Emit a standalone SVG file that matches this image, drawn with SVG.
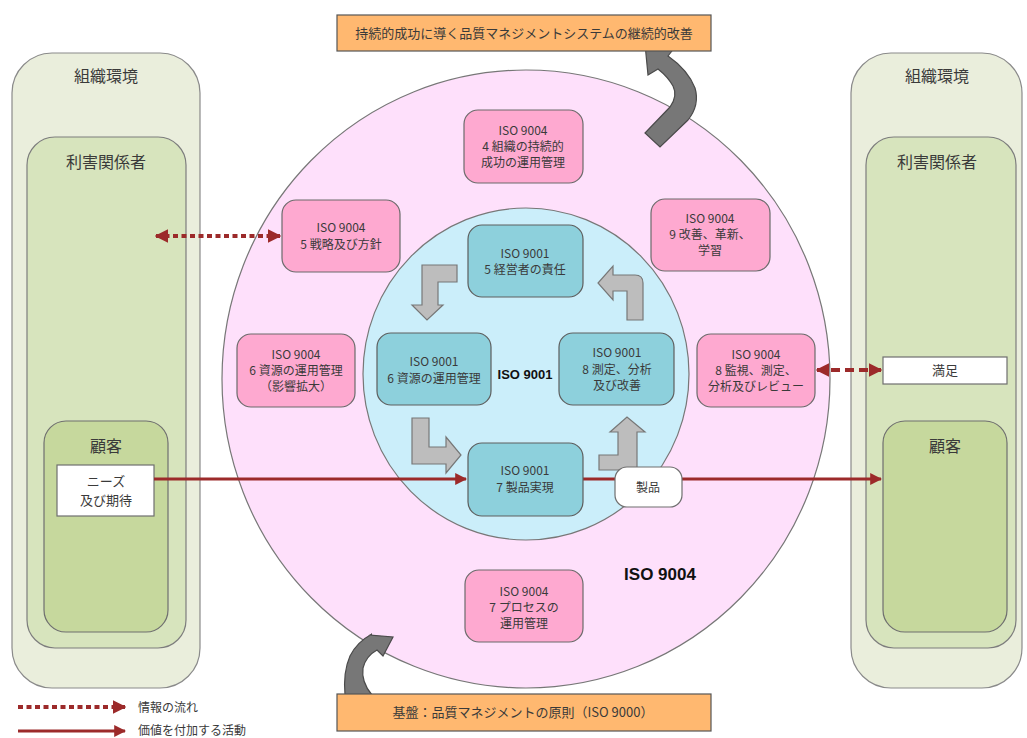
<svg xmlns="http://www.w3.org/2000/svg" width="1027" height="738" viewBox="0 0 1027 738">
  <defs>
    <style>
      text { font-family: "Noto Sans CJK JP", "Liberation Sans", sans-serif; fill: #3a3a3a; text-anchor: middle; }
      .t12 { font-size: 12px; }
      .t13 { font-size: 13px; }
      .t16 { font-size: 16px; }
      .env { fill: #eaeedc; stroke: #8a8a8a; stroke-width: 1.2; }
      .stake { fill: #d7e4bd; stroke: #7d7d7d; stroke-width: 1.2; }
      .cust { fill: #c6d89d; stroke: #6f6f6f; stroke-width: 1.2; }
      .white { fill: #ffffff; stroke: #6f6f6f; stroke-width: 1.2; }
      .orange { fill: #ffb870; stroke: #555; stroke-width: 1.2; }
      .p4 { fill: #fea9d0; stroke: #6b6b6b; stroke-width: 1.2; }
      .b1 { fill: #8dd0dc; stroke: #5e5e5e; stroke-width: 1.2; }
      .blk { fill: #bdbdbd; stroke: #777; stroke-width: 1.2; }
      .big { fill: #777777; stroke: #4a4a4a; stroke-width: 1.2; }
      .red { stroke: #9c2a2a; fill: none; }
    </style>
    <marker id="ah" viewBox="0 0 10 10" refX="9" refY="5" markerWidth="4" markerHeight="4" orient="auto-start-reverse" markerUnits="strokeWidth">
      <path d="M0,0 L10,5 L0,10 z" fill="#9c2a2a"/>
    </marker>
    <marker id="ah2" viewBox="0 0 10 10" refX="9" refY="5" markerWidth="3.4" markerHeight="3.4" orient="auto-start-reverse" markerUnits="strokeWidth">
      <path d="M0,0 L10,5 L0,10 z" fill="#9c2a2a"/>
    </marker>
  </defs>

  <rect width="1027" height="738" fill="#ffffff"/>

  <!-- organisational environment, left -->
  <g id="env-left">
    <rect class="env" x="12" y="53" width="188" height="635" rx="40"/>
    <text class="t16" x="106" y="82">組織環境</text>
  </g>
  <g id="stakeholders-left">
    <rect class="stake" x="27" y="137" width="159" height="511" rx="28"/>
    <text class="t16" x="106" y="168">利害関係者</text>
  </g>
  <g id="customer-left">
    <rect class="cust" x="44" y="421" width="124" height="211" rx="22"/>
    <text class="t16" x="106" y="452">顧客</text>
  </g>
  <g id="needs">
    <rect class="white" x="57" y="465" width="97" height="51"/>
    <text class="t13" x="106" y="486">ニーズ</text>
    <text class="t13" x="106" y="505">及び期待</text>
  </g>

  <!-- organisational environment, right -->
  <g id="env-right">
    <rect class="env" x="851" y="53" width="171" height="635" rx="40"/>
    <text class="t16" x="937" y="82">組織環境</text>
  </g>
  <g id="stakeholders-right">
    <rect class="stake" x="866" y="137" width="150" height="511" rx="28"/>
    <text class="t16" x="937" y="168">利害関係者</text>
  </g>
  <g id="satisfaction">
    <rect class="white" x="883" y="357" width="124" height="27"/>
    <text class="t13" x="945" y="375">満足</text>
  </g>
  <g id="customer-right">
    <rect class="cust" x="883" y="421" width="124" height="211" rx="22"/>
    <text class="t16" x="945" y="452">顧客</text>
  </g>

  <!-- ISO 9004 and ISO 9001 rings -->
  <g id="iso9004-ring">
    <ellipse cx="526" cy="379" rx="304" ry="309" fill="#fee0fb" stroke="#777" stroke-width="1.2"/>
    <text x="660" y="580" style="font-family:'Liberation Sans',sans-serif;font-size:17px;font-weight:bold;fill:#111">ISO 9004</text>
  </g>
  <g id="iso9001-ring">
    <ellipse cx="526" cy="374" rx="163" ry="166" fill="#cbeefa" stroke="#777" stroke-width="1.2"/>
    <text x="525" y="379" style="font-family:'Liberation Sans',sans-serif;font-size:13px;font-weight:bold;fill:#111">ISO 9001</text>
  </g>

  <!-- improvement cycle block arrows -->
  <g id="cycle-arrows">
    <path class="blk" d="M457,265 L422,265 L422,305 L412,305 L427,320 L443,305 L438,305 L438,282 L457,282 Z"/>
    <path class="blk" d="M412,418 L429,418 L429,447 L446,447 L446,437 L461,455 L446,473 L446,464 L412,464 Z"/>
    <path class="blk" d="M599,470 L599,455 L618,455 L618,432 L610,432 L627,417 L645,432 L637,432 L637,470 Z"/>
    <path class="blk" d="M627,320 L643,320 L643,283 Q643,275 635,275 L613,275 L613,266 L598,283 L613,300 L613,291 L627,291 Z"/>
  </g>

  <!-- value-adding flow and information flows -->
  <g id="connectors">
    <line class="red" x1="154" y1="479" x2="466" y2="479" stroke-width="3" marker-end="url(#ah)"/>
    <line class="red" x1="583" y1="479" x2="615" y2="479" stroke-width="3"/>
    <line class="red" x1="682" y1="479" x2="881" y2="479" stroke-width="3" marker-end="url(#ah)"/>
    <line class="red" x1="156" y1="236" x2="280" y2="236" stroke-width="4" stroke-dasharray="5 3.5" marker-start="url(#ah2)" marker-end="url(#ah2)"/>
    <line class="red" x1="817" y1="370" x2="881" y2="370" stroke-width="4" stroke-dasharray="9 5" marker-start="url(#ah2)" marker-end="url(#ah2)"/>
  </g>

  <!-- ISO 9004 clauses -->
  <g id="iso9004-4">
    <rect class="p4" x="464" y="110" width="119" height="73" rx="14"/>
    <text class="t12" x="523" y="135">ISO 9004</text>
    <text class="t12" x="523" y="151">4 組織の持続的</text>
    <text class="t12" x="523" y="167">成功の運用管理</text>
  </g>
  <g id="iso9004-5">
    <rect class="p4" x="282" y="200" width="118" height="72" rx="14"/>
    <text class="t12" x="341" y="232">ISO 9004</text>
    <text class="t12" x="341" y="249">5 戦略及び方針</text>
  </g>
  <g id="iso9004-9">
    <rect class="p4" x="651" y="199" width="119" height="72" rx="14"/>
    <text class="t12" x="710" y="223">ISO 9004</text>
    <text class="t12" x="710" y="239">9 改善、革新、</text>
    <text class="t12" x="710" y="255">学習</text>
  </g>
  <g id="iso9004-6">
    <rect class="p4" x="237" y="334" width="118" height="73" rx="14"/>
    <text class="t12" x="296" y="359">ISO 9004</text>
    <text class="t12" x="296" y="375">6 資源の運用管理</text>
    <text class="t12" x="296" y="391">（影響拡大）</text>
  </g>
  <g id="iso9004-8">
    <rect class="p4" x="697" y="334" width="118" height="73" rx="14"/>
    <text class="t12" x="756" y="359">ISO 9004</text>
    <text class="t12" x="756" y="375">8 監視、測定、</text>
    <text class="t12" x="756" y="391">分析及びレビュー</text>
  </g>
  <g id="iso9004-7">
    <rect class="p4" x="465" y="570" width="118" height="72" rx="14"/>
    <text class="t12" x="524" y="596">ISO 9004</text>
    <text class="t12" x="524" y="612">7 プロセスの</text>
    <text class="t12" x="524" y="628">運用管理</text>
  </g>

  <!-- ISO 9001 clauses -->
  <g id="iso9001-5">
    <rect class="b1" x="468" y="225" width="115" height="72" rx="14"/>
    <text class="t12" x="525" y="258">ISO 9001</text>
    <text class="t12" x="525" y="274">5 経営者の責任</text>
  </g>
  <g id="iso9001-6">
    <rect class="b1" x="377" y="333" width="114" height="72" rx="14"/>
    <text class="t12" x="434" y="366">ISO 9001</text>
    <text class="t12" x="434" y="383">6 資源の運用管理</text>
  </g>
  <g id="iso9001-8">
    <rect class="b1" x="559" y="333" width="115" height="72" rx="14"/>
    <text class="t12" x="617" y="357">ISO 9001</text>
    <text class="t12" x="617" y="374">8 測定、分析</text>
    <text class="t12" x="617" y="390">及び改善</text>
  </g>
  <g id="iso9001-7">
    <rect class="b1" x="468" y="443" width="115" height="73" rx="14"/>
    <text class="t12" x="525" y="475">ISO 9001</text>
    <text class="t12" x="525" y="492">7 製品実現</text>
  </g>
  <g id="product">
    <rect class="white" x="615" y="467" width="67" height="40" rx="12"/>
    <text class="t12" x="648" y="492">製品</text>
  </g>

  <!-- continual improvement and foundation -->
  <g id="improvement-arrow">
    <path class="big" d="M645,44 L675,47 L668,56 Q688,70 695,88 Q700,105 688,120 L660,147 L645,133 L670,107 Q678,96 673,86 Q668,77 658,69 L648,75 Z"/>
  </g>
  <g id="foundation-arrow">
    <path class="big" d="M345,695 Q343,672 350,656 Q357,642 372,634 L370,635 L393,637 L383,656 L377,650 Q366,656 363,668 Q361,682 372,695 Z"/>
  </g>
  <g id="improvement">
    <rect class="orange" x="337" y="15" width="374" height="36"/>
    <text class="t13" x="524" y="38">持続的成功に導く品質マネジメントシステムの継続的改善</text>
  </g>
  <g id="foundation">
    <rect class="orange" x="337" y="694" width="374" height="37"/>
    <text class="t13" x="523" y="717">基盤：品質マネジメントの原則（ISO 9000）</text>
  </g>

  <!-- legend -->
  <g id="legend">
    <line class="red" x1="18" y1="707" x2="125" y2="707" stroke-width="4" stroke-dasharray="5 3.5" marker-end="url(#ah2)"/>
    <text class="t12" x="138" y="712" style="text-anchor:start">情報の流れ</text>
    <line class="red" x1="18" y1="731" x2="125" y2="731" stroke-width="3" marker-end="url(#ah)"/>
    <text class="t12" x="138" y="735" style="text-anchor:start">価値を付加する活動</text>
  </g>
</svg>
